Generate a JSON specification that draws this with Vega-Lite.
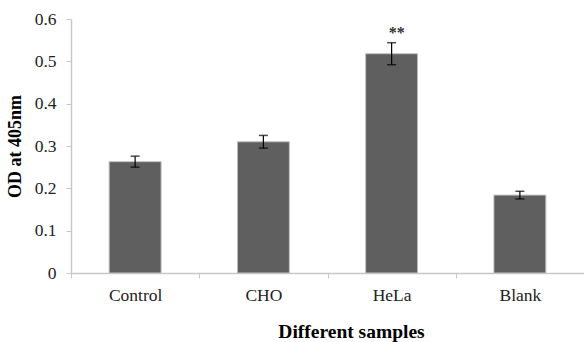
{
  "$schema": "https://vega.github.io/schema/vega-lite/v6.json",
  "autosize": "none",
  "width": 513,
  "height": 254,
  "padding": {"left": 71, "top": 19, "right": 0, "bottom": 69},
  "background": "white",
  "config": {
    "view": {"stroke": null},
    "font": "Liberation Serif, Times New Roman, serif",
    "axis": {
      "labelFont": "Liberation Serif, Times New Roman, serif",
      "titleFont": "Liberation Serif, Times New Roman, serif"
    }
  },
  "data": {
    "values": [
      {"sample": "Control", "od": 0.263, "err": 0.013, "sig": ""},
      {"sample": "CHO", "od": 0.310, "err": 0.015, "sig": ""},
      {"sample": "HeLa", "od": 0.518, "err": 0.026, "sig": "**"},
      {"sample": "Blank", "od": 0.184, "err": 0.009, "sig": ""}
    ]
  },
  "transform": [
    {"calculate": "datum.od - datum.err", "as": "lo"},
    {"calculate": "datum.od + datum.err", "as": "hi"}
  ],
  "encoding": {
    "x": {
      "field": "sample",
      "type": "nominal",
      "sort": ["Control", "CHO", "HeLa", "Blank"],
      "scale": {"paddingInner": 0, "paddingOuter": 0},
      "axis": {
        "title": "Different samples",
        "titleFontSize": 19.5,
        "titleFontWeight": "bold",
        "titleColor": "#000",
        "titleX": 280,
        "titleY": 58,
        "titleBaseline": "middle",
        "labelAngle": 0,
        "labelFontSize": 17.5,
        "labelColor": "#222",
        "labelPadding": 8,
        "tickBand": "extent",
        "tickSize": 5,
        "tickColor": "#c8c8c8",
        "domainColor": "#c8c8c8",
        "domainWidth": 1.5
      }
    }
  },
  "layer": [
    {
      "mark": {"type": "bar", "color": "#5f5f5f", "stroke": "#c0c0c0", "strokeWidth": 1, "width": {"band": 0.405}},
      "encoding": {
        "y": {
          "field": "od",
          "type": "quantitative",
          "scale": {"domain": [0, 0.6]},
          "axis": {
            "title": "OD at 405nm",
            "titleFontSize": 18,
            "titleFontWeight": "bold",
            "titleColor": "#000",
            "titlePadding": 10,
            "values": [0, 0.1, 0.2, 0.3, 0.4, 0.5, 0.6],
            "format": ".1~f",
            "labelFontSize": 17.5,
            "labelColor": "#222",
            "labelPadding": 10,
            "tickSize": 5,
            "tickColor": "#c8c8c8",
            "domainColor": "#c8c8c8",
            "domainWidth": 1.5,
            "grid": false
          }
        }
      }
    },
    {
      "mark": {"type": "rule", "color": "#000", "strokeWidth": 1.2},
      "encoding": {
        "y": {"field": "lo", "type": "quantitative"},
        "y2": {"field": "hi"}
      }
    },
    {
      "mark": {"type": "tick", "color": "#000", "thickness": 1.5, "size": 9, "orient": "horizontal"},
      "encoding": {"y": {"field": "lo", "type": "quantitative"}}
    },
    {
      "mark": {"type": "tick", "color": "#000", "thickness": 1.5, "size": 9, "orient": "horizontal"},
      "encoding": {"y": {"field": "hi", "type": "quantitative"}}
    },
    {
      "mark": {"type": "text", "font": "Liberation Serif, Times New Roman, serif", "fontSize": 16, "fontWeight": "bold", "color": "#333", "dy": -2, "dx": 5, "baseline": "bottom"},
      "encoding": {
        "y": {"field": "hi", "type": "quantitative"},
        "text": {"field": "sig"}
      }
    }
  ]
}
